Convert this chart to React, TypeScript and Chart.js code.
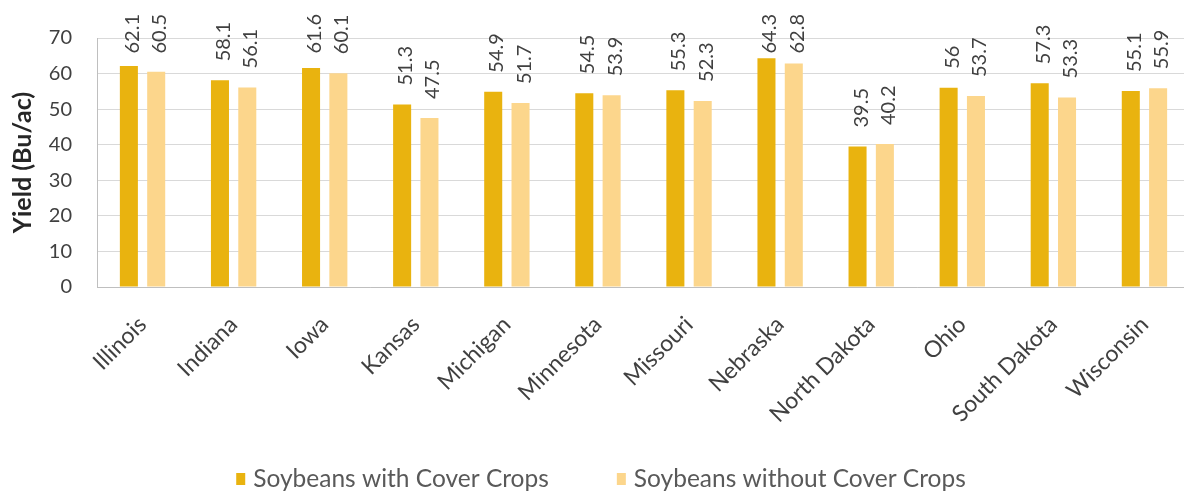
import React, { useEffect, useRef } from "react";
import { Chart, registerables } from "chart.js";

Chart.register(...registerables);

const categories = [
  "Illinois", "Indiana", "Iowa", "Kansas", "Michigan", "Minnesota",
  "Missouri", "Nebraska", "North Dakota", "Ohio", "South Dakota", "Wisconsin",
];
const withCoverCrops = [62.1, 58.1, 61.6, 51.3, 54.9, 54.5, 55.3, 64.3, 39.5, 56, 57.3, 55.1];
const withoutCoverCrops = [60.5, 56.1, 60.1, 47.5, 51.7, 53.9, 52.3, 62.8, 40.2, 53.7, 53.3, 55.9];
const seriesNames = ["Soybeans with Cover Crops", "Soybeans without Cover Crops"];
const yMin = 0;
const yMax = 70;
const yStep = 10;
const yTitle = "Yield (Bu/ac)";

const FONT = "Lato";
const DARK = "#E9B30F";
const LIGHT = "#FCD68C";

const valueLabelPlugin = {
  id: "valueLabels",
  afterDatasetsDraw(chart: any) {
    const ctx = chart.ctx;
    ctx.save();
    ctx.font = `20px ${FONT}`;
    ctx.fillStyle = "#404040";
    ctx.textAlign = "left";
    ctx.textBaseline = "alphabetic";
    chart.data.datasets.forEach((ds: any, di: number) => {
      const meta = chart.getDatasetMeta(di);
      meta.data.forEach((el: any, i: number) => {
        const text = String(ds.data[i]);
        const w = ctx.measureText(text).width;
        let bottom = el.y - 19;
        if (bottom - w < 14) bottom = 14 + w;
        ctx.save();
        ctx.translate(el.x, bottom);
        ctx.rotate(-Math.PI / 2);
        ctx.fillText(text, 0, 10);
        ctx.restore();
      });
    });
    ctx.restore();
  },
};

const legendPlugin = {
  id: "bottomLegend",
  afterDraw(chart: any) {
    const ctx = chart.ctx;
    ctx.save();
    ctx.font = `24.5px ${FONT}`;
    ctx.textAlign = "left";
    ctx.textBaseline = "alphabetic";
    const boxW = 9;
    const boxH = 12;
    const boxGap = 8;
    const itemGap = 68;
    const items = chart.data.datasets.map((ds: any) => ({
      text: ds.label,
      color: ds.backgroundColor,
      w: ctx.measureText(ds.label).width,
    }));
    let total = 0;
    items.forEach((it: any, i: number) => {
      total += boxW + boxGap + it.w + (i > 0 ? itemGap : 0);
    });
    let x = 601 - total / 2;
    items.forEach((it: any) => {
      ctx.fillStyle = it.color;
      ctx.fillRect(x, 473, boxW, boxH);
      ctx.fillStyle = "#595959";
      ctx.fillText(it.text, x + boxW + boxGap, 487);
      x += boxW + boxGap + it.w + itemGap;
    });
    ctx.restore();
  },
};

export default function App() {
  const ref = useRef<HTMLCanvasElement | null>(null);

  useEffect(() => {
    if (!ref.current) return;
    const chart = new Chart(ref.current, {
      type: "bar",
      data: {
        labels: categories,
        datasets: [
          {
            label: seriesNames[0],
            data: withCoverCrops,
            backgroundColor: DARK,
            categoryPercentage: 0.6,
            barPercentage: 0.66,
          },
          {
            label: seriesNames[1],
            data: withoutCoverCrops,
            backgroundColor: LIGHT,
            categoryPercentage: 0.6,
            barPercentage: 0.66,
          },
        ],
      },
      options: {
        animation: false,
        responsive: true,
        maintainAspectRatio: false,
        layout: { padding: { top: 38, right: 6, left: 0, bottom: 0 } },
        plugins: {
          tooltip: { enabled: false },
          legend: { display: false },
        },
        scales: {
          x: {
            grid: { display: false, drawTicks: false },
            border: { display: true, color: "#BFBFBF" },
            ticks: {
              autoSkip: false,
              minRotation: 45,
              maxRotation: 45,
              padding: 24,
              color: "#404040",
              font: { family: FONT, size: 23 },
            },
            afterFit(scale: any) {
              scale.height = scale.chart.height - 287;
            },
          },
          y: {
            min: yMin,
            max: yMax,
            ticks: {
              stepSize: yStep,
              padding: 25,
              color: "#404040",
              font: { family: FONT, size: 20 },
            },
            grid: { color: "#D9D9D9", drawTicks: false },
            border: { display: true, color: "#BFBFBF" },
            title: {
              display: true,
              text: yTitle,
              color: "#262626",
              font: { family: FONT, size: 25, weight: "bold" },
              padding: { top: 8, bottom: 0 },
            },
            afterFit(scale: any) {
              scale.width = 97;
            },
          },
        },
      },
      plugins: [valueLabelPlugin, legendPlugin],
    });
    return () => chart.destroy();
  }, []);

  return (
    <div
      style={{
        position: "fixed",
        left: 0,
        top: 0,
        width: 1184,
        height: 496,
        overflow: "hidden",
        background: "#fff",
      }}
    >
      <div style={{ position: "relative", width: 1196, height: 496 }}>
        <canvas ref={ref} />
      </div>
    </div>
  );
}
